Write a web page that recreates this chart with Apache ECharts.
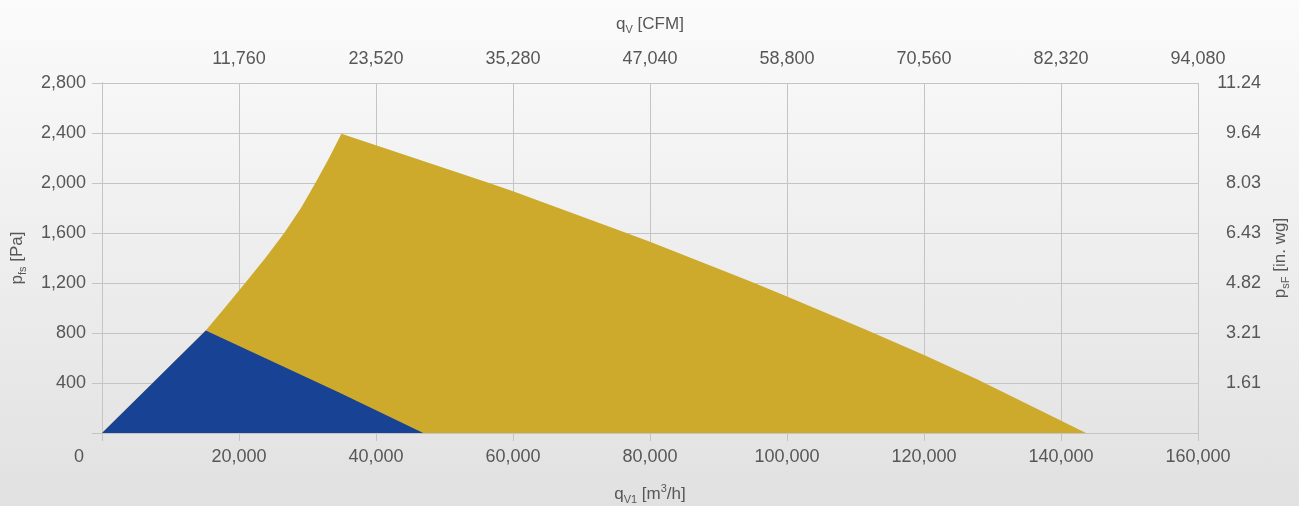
<!DOCTYPE html>
<html>
<head>
<meta charset="utf-8">
<script src="https://cdn.jsdelivr.net/npm/echarts@6/dist/echarts.min.js"></script>
<style>
html,body{margin:0;padding:0;}
#c{width:1299px;height:506px;background:linear-gradient(to bottom,#fbfbfb 0%,#e1e1e1 100%);}
</style>
</head>
<body>
<div id="c"></div>
<script>
// Flow axis (m³/h) ticks and CFM equivalents on the top axis
const flowTicks = [0, 20000, 40000, 60000, 80000, 100000, 120000, 140000, 160000];
const cfmLabels = ['', '11,760', '23,520', '35,280', '47,040', '58,800', '70,560', '82,320', '94,080'];
// Pressure axis (Pa) ticks and in. wg equivalents on the right axis
const paTicks = [0, 400, 800, 1200, 1600, 2000, 2400, 2800];
const inwgLabels = ['', '1.61', '3.21', '4.82', '6.43', '8.03', '9.64', '11.24'];

// Operating field (gold) boundary: [flow m³/h, pressure Pa]
const goldField = [
  [0, 0], [7400, 400], [15150, 820], [17900, 1000], [20900, 1200], [23850, 1400],
  [26600, 1600], [29050, 1800], [31150, 2000], [33150, 2200], [34950, 2395],
  [56510, 2000], [60000, 1934], [76360, 1605], [80000, 1530], [94780, 1210],
  [100000, 1092], [111790, 820], [120000, 625], [127740, 430], [143650, 0]
];
// Lower field (blue) boundary
const blueField = [[0, 0], [7400, 400], [15150, 820], [34540, 326], [46900, 0]];

const FONT = '"Liberation Sans", Arial, sans-serif';
const TXT = '#575757';
const GRID = '#c4c4c4';

const main = {fontSize: 17, fontFamily: FONT, color: TXT, lineHeight: 22};
const sub = {fontSize: 11, fontFamily: FONT, color: TXT, lineHeight: 12, verticalAlign: 'bottom'};
const sup = {fontSize: 11, fontFamily: FONT, color: TXT, lineHeight: 12, verticalAlign: 'top'};
const nameRich = {m: main, s: sub, u: sup};

const fmt = v => v.toLocaleString('en-US');
const step = flowTicks[1];
const pstep = paTicks[1];

const chart = echarts.init(document.getElementById('c'), null, {renderer: 'canvas'});
chart.setOption({
  animation: false,
  backgroundColor: 'transparent',
  grid: {left: 102, right: 101, top: 83, bottom: 73, containLabel: false, outerBoundsMode: 'none'},
  xAxis: [{
    type: 'value', position: 'bottom',
    min: flowTicks[0], max: flowTicks[flowTicks.length - 1], interval: step,
    name: '{m|q}{s|V1}{m| [m}{u|3}{m|/h]}',
    nameLocation: 'middle', nameGap: 50,
    nameTextStyle: {rich: nameRich},
    axisLine: {show: false},
    axisTick: {show: true, length: 8, lineStyle: {color: GRID}},
    splitLine: {show: true, lineStyle: {color: GRID, width: 1}},
    axisLabel: {
      margin: 15, fontSize: 18, fontFamily: FONT, color: TXT,
      formatter: v => v === 0 ? '{z|0}' : fmt(v),
      rich: {z: {fontSize: 18, fontFamily: FONT, color: TXT, padding: [0, 46, 0, 0]}}
    }
  }, {
    type: 'value', position: 'top',
    min: flowTicks[0], max: flowTicks[flowTicks.length - 1], interval: step,
    name: '{m|q}{s|V}{m| [CFM]}',
    nameLocation: 'middle', nameGap: 48,
    nameTextStyle: {rich: nameRich},
    axisLine: {show: false},
    axisTick: {show: true, length: 8, lineStyle: {color: GRID}},
    splitLine: {show: false},
    axisLabel: {
      margin: 15, fontSize: 18, fontFamily: FONT, color: TXT,
      formatter: v => cfmLabels[flowTicks.indexOf(v)] || ''
    }
  }],
  yAxis: [{
    type: 'value', position: 'left',
    min: paTicks[0], max: paTicks[paTicks.length - 1], interval: pstep,
    name: '{m|p}{s|fs}{m| [Pa]}',
    nameLocation: 'middle', nameGap: 74, nameRotate: 90,
    nameTextStyle: {rich: nameRich},
    axisLine: {show: true, lineStyle: {color: GRID}},
    axisTick: {show: true, length: 10, lineStyle: {color: GRID}},
    splitLine: {show: true, lineStyle: {color: GRID, width: 1}},
    axisLabel: {
      margin: 16, fontSize: 18, fontFamily: FONT, color: TXT,
      formatter: v => v === 0 ? '' : fmt(v)
    }
  }, {
    type: 'value', position: 'right',
    min: paTicks[0], max: paTicks[paTicks.length - 1], interval: pstep,
    name: '{m|p}{s|sF}{m| [in. wg]}',
    nameLocation: 'middle', nameGap: 69, nameRotate: 90,
    nameTextStyle: {rich: nameRich},
    axisLine: {show: true, lineStyle: {color: GRID}},
    axisTick: {show: true, length: 10, lineStyle: {color: GRID}},
    splitLine: {show: false},
    axisLabel: {
      margin: 63, align: 'right', fontSize: 18, fontFamily: FONT, color: TXT,
      formatter: v => inwgLabels[paTicks.indexOf(v)] || ''
    }
  }],
  series: [{
    type: 'line', xAxisIndex: 0, yAxisIndex: 0,
    data: goldField, showSymbol: false, symbol: 'none',
    lineStyle: {width: 0}, areaStyle: {color: '#cdaa2b', opacity: 1},
    z: 2
  }, {
    type: 'line', xAxisIndex: 0, yAxisIndex: 0,
    data: blueField, showSymbol: false, symbol: 'none',
    lineStyle: {width: 0}, areaStyle: {color: '#184293', opacity: 1},
    z: 3
  }]
});
</script>
</body>
</html>
